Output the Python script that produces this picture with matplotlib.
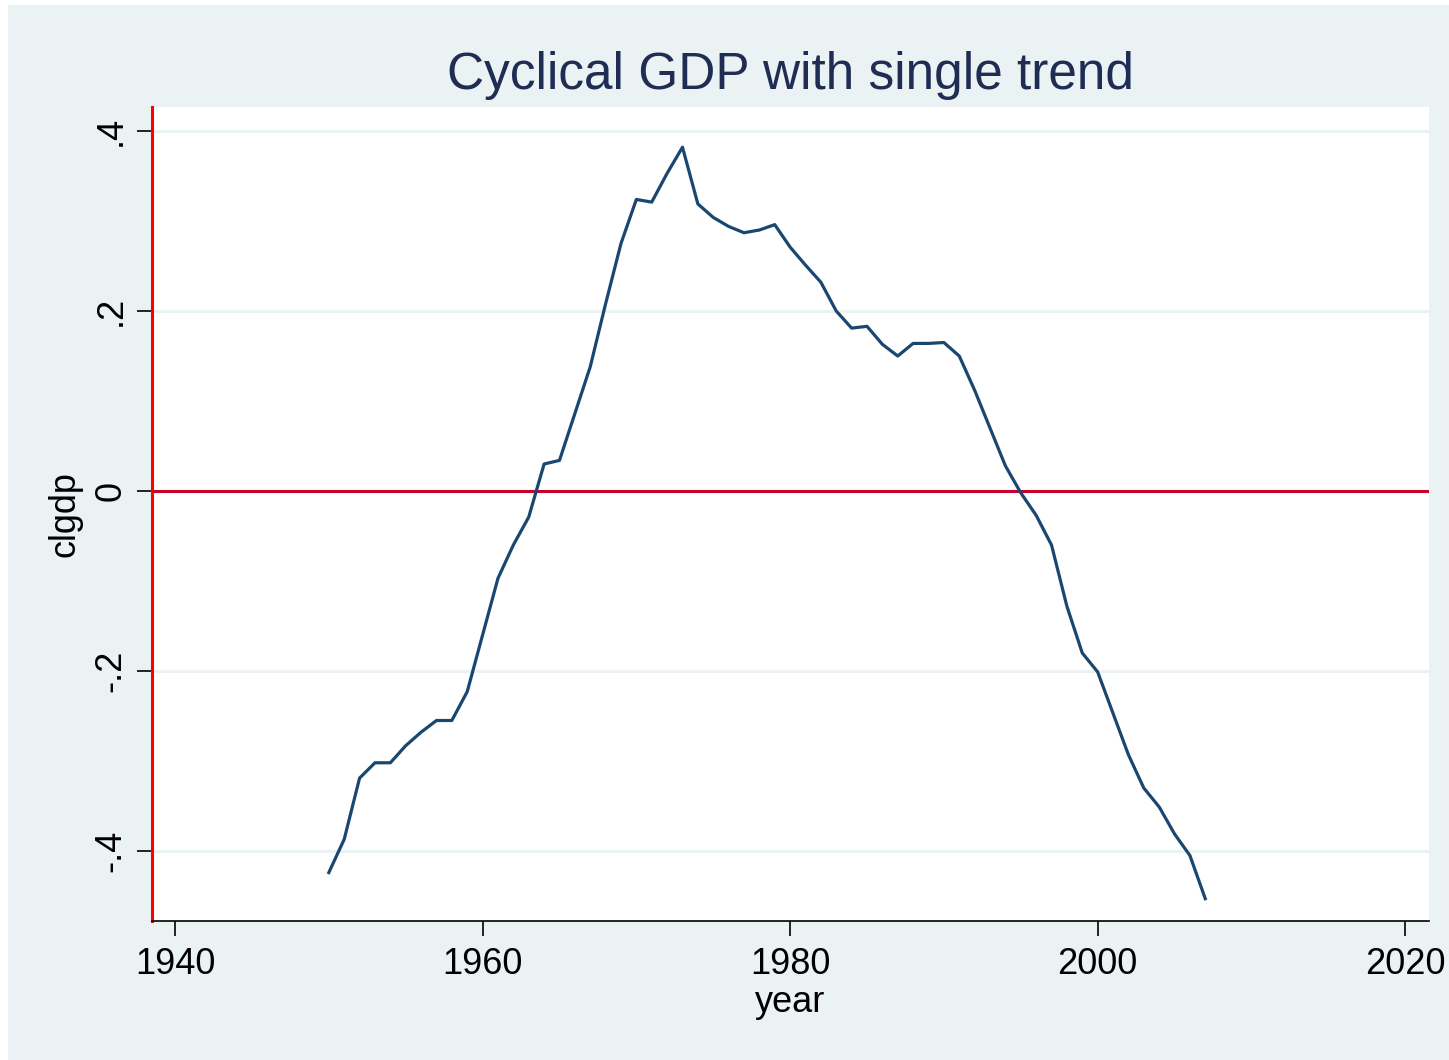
import numpy as np
import matplotlib
matplotlib.use("Agg")
import matplotlib.pyplot as plt
from matplotlib.patches import Rectangle

plt.rcParams["font.family"] = ["Liberation Sans", "DejaVu Sans"]

# Datos
years = list(range(1950, 2008))
clgdp = [
    -0.424, -0.387, -0.319, -0.302, -0.302, -0.283, -0.268, -0.255, -0.255, -0.223,
    -0.160, -0.097, -0.060, -0.029, 0.030, 0.034, 0.086, 0.138, 0.208, 0.275,
    0.324, 0.321, 0.353, 0.382, 0.319, 0.304, 0.294, 0.287, 0.290, 0.296,
    0.271, 0.251, 0.232, 0.200, 0.181, 0.183, 0.163, 0.150, 0.164, 0.164,
    0.165, 0.150, 0.112, 0.070, 0.028, -0.002, -0.027, -0.060, -0.128, -0.180,
    -0.201, -0.247, -0.293, -0.330, -0.351, -0.381, -0.405, -0.453,
]
xticks = [1940, 1960, 1980, 2000, 2020]
yticks = [-0.4, -0.2, 0, 0.2, 0.4]
ylabels = ["-.4", "-.2", "0", ".2", ".4"]

bg = "#EAF2F3"
W, H = 1449, 1060
fig = plt.figure(figsize=(W / 100, H / 100), dpi=100, facecolor="white")
# fondo del grafico (con pequeno borde blanco arriba/izquierda)
fig.patches.append(Rectangle((8 / W, 0), 1 - 8 / W, 1 - 5 / H, transform=fig.transFigure,
                             facecolor=bg, edgecolor="none", zorder=-10))

ax = fig.add_axes([152 / W, (H - 921) / H, (1429 - 152) / W, (921 - 107) / H])
ax.set_facecolor("white")

ax.plot(years, clgdp, color="#1A476F", lw=2.3, zorder=3)
ax.axhline(0, color="#C8002E", lw=2.2, zorder=2)

ax.set_xlim(1938.5, 2021.55)
ax.set_ylim(-0.4778, 0.4267)
ax.set_xticks(xticks)
ax.set_xticklabels([str(t) for t in xticks], fontsize=26)
ax.set_yticks(yticks)
ax.set_yticklabels(ylabels, fontsize=26, rotation=90, va="center")
ax.tick_params(axis="both", direction="out", length=11, width=1.2, color="black", pad=6)
ax.tick_params(axis="x", pad=8)

ax.grid(axis="y", color=bg, lw=2.2, zorder=1)
ax.set_axisbelow(True)

for s in ["top", "right"]:
    ax.spines[s].set_visible(False)
ax.spines["left"].set_color("#FF0000")
ax.spines["left"].set_linewidth(2.2)
ax.spines["bottom"].set_color("black")
ax.spines["bottom"].set_linewidth(1.2)

ax.set_xlabel("year", fontsize=26, labelpad=2)
ax.set_ylabel("clgdp", fontsize=26, labelpad=8)
fig.text((152 + 1429) / 2 / W, 1 - 76 / H, "Cyclical GDP with single trend",
         fontsize=37, color="#1F2D55", ha="center", va="center")

plt.savefig("out.png", dpi=100, facecolor=fig.get_facecolor())
plt.close()
